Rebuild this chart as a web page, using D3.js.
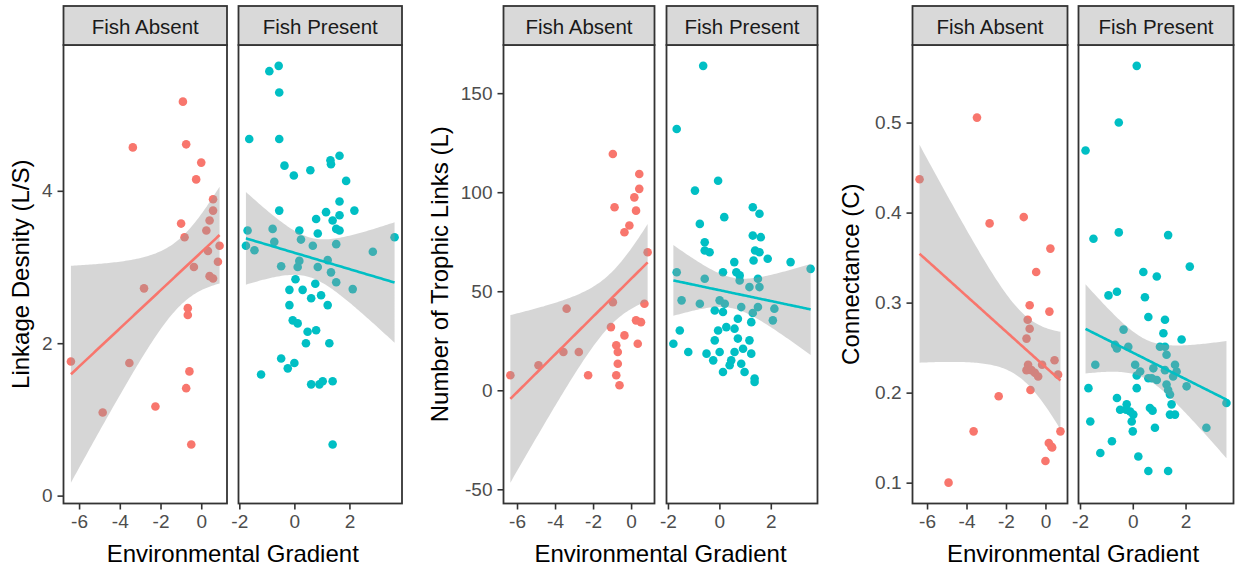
<!DOCTYPE html>
<html>
<head>
<meta charset="utf-8">
<script src="https://cdn.jsdelivr.net/npm/d3@7"></script>
<style>
html,body{margin:0;padding:0;background:#fff;}
svg{display:block;font-family:"Liberation Sans",Arial,sans-serif;}
</style>
</head>
<body>
<svg id="chart" width="1235" height="567"></svg>
<script>
// ---------- DATA ----------
const facetLabels = ["Fish Absent", "Fish Present"];
const xTitle = "Environmental Gradient";
const yTitles = ["Linkage Desnity (L/S)", "Number of Trophic Links (L)", "Connectance (C)"];
const xTicksAbsent = [-6, -4, -2, 0];
const xTicksPresent = [-2, 0, 2];
const yTicksLD = [0, 2, 4];
const yTicksTL = [-50, 0, 50, 100, 150];
const yTicksC = [0.1, 0.2, 0.3, 0.4, 0.5];

// Panel 1: Linkage density
const ldAbsentX = [-0.90,-3.36,-0.74,0.00,-0.25,0.58,0.58,0.41,-0.99,0.25,-0.82,0.90,0.33,0.82,-0.36,0.41,0.58,-2.81,-0.66,-0.66,-6.40,-3.53,-0.58,-0.74,-2.25,-4.84,-0.49];
const ldAbsentY = [5.17,4.57,4.61,4.37,4.15,3.89,3.74,3.61,3.57,3.48,3.39,3.28,3.21,3.07,3.00,2.88,2.85,2.72,2.46,2.37,1.76,1.74,1.63,1.41,1.17,1.09,0.67];
const ldPresentX = [-0.91,-0.57,-0.55,-1.64,-0.55,-0.36,-0.02,0.58,1.31,1.33,1.64,1.88,1.64,2.18,-0.55,1.15,0.79,1.64,1.39,1.52,1.64,0.18,0.85,-1.70,-0.79,3.64,-1.76,-1.45,-0.73,0.24,0.67,1.52,2.85,1.21,0.18,-0.48,0.12,0.85,1.33,0.04,0.76,1.52,-0.18,0.30,2.12,0.61,0.97,-0.18,1.21,-0.06,0.12,0.48,0.79,0.42,1.27,-0.48,0.00,-0.24,-1.21,0.61,0.91,1.03,1.39,1.39];
const ldPresentY = [5.57,5.64,5.29,4.68,4.68,4.33,4.20,4.27,4.40,4.35,4.46,4.13,3.86,3.74,3.74,3.72,3.63,3.68,3.61,3.50,3.48,3.48,3.44,3.48,3.50,3.39,3.28,3.22,3.33,3.36,3.28,3.30,3.20,3.09,3.08,3.01,3.00,3.00,2.93,2.84,2.78,2.80,2.70,2.70,2.71,2.59,2.63,2.50,2.50,2.30,2.26,2.15,2.17,2.00,2.00,1.80,1.74,1.67,1.59,1.46,1.46,1.50,1.50,0.67];

// Panel 2: Number of trophic links
const tlAbsentX = [-0.96,0.43,0.43,0.17,-0.87,0.26,-0.09,-0.35,0.87,-6.35,-4.87,-3.56,-3.39,-2.75,-2.26,-0.96,-1.06,-0.78,-0.70,-0.70,-0.78,-0.61,-0.35,0.35,0.26,0.52,0.70];
const tlAbsentY = [119.3,109.2,101.7,97.4,92.4,90.7,83.2,79.8,69.7,7.6,12.6,19.3,41.2,19.3,7.6,44.5,31.9,22.7,19.3,13.4,7.6,2.5,27.7,23.5,35.3,34.4,43.7];
const tlPresentX = [-0.63,-1.66,-0.05,-0.95,1.30,1.56,0.19,-0.76,1.30,1.61,-0.57,-0.57,-0.38,1.39,1.56,1.33,1.88,0.58,2.77,3.55,-1.66,0.14,0.66,0.79,-0.57,1.50,0.79,1.17,1.56,-1.47,-0.76,0.01,0.21,0.85,1.50,2.14,-0.18,0.14,1.30,0.72,1.24,2.08,-1.54,-0.05,0.27,0.59,0.72,-0.18,1.17,-1.79,-1.21,-0.50,0.01,0.59,0.92,1.24,-0.24,0.46,0.40,0.85,0.14,0.98,1.37,1.37];
const tlPresentY = [163.8,131.9,105.8,100.8,92.4,89.1,87.4,84.0,78.1,77.3,74.7,70.6,69.7,70.6,69.7,65.5,66.4,64.7,64.7,61.3,59.6,59.6,59.6,58.0,56.3,56.3,55.4,52.1,52.1,45.4,43.7,45.4,43.7,42.0,42.0,41.2,40.3,39.5,39.0,36.1,34.4,35.3,30.2,30.2,31.9,31.1,26.1,25.2,25.2,23.5,19.3,18.5,19.3,19.3,21.0,18.5,15.1,15.1,12.6,13.4,9.2,9.2,5.9,4.2];

// Panel 3: Connectance
const cAbsentX = [-3.47,-6.38,-2.83,-1.10,0.25,-0.47,-0.80,0.20,-0.90,-0.80,-0.96,0.46,-0.88,-0.17,-0.96,-0.71,-0.54,-0.37,0.64,-0.76,-2.37,-3.64,0.76,0.17,0.30,0.34,0.00,-4.91];
const cAbsentY = [0.5055,0.437,0.388,0.395,0.360,0.334,0.297,0.290,0.281,0.271,0.260,0.236,0.231,0.231,0.225,0.225,0.222,0.218,0.220,0.203,0.196,0.157,0.157,0.144,0.140,0.139,0.124,0.100];
const cPresentX = [0.15,-0.53,-1.79,-1.49,-0.53,1.34,0.40,0.91,2.16,-0.60,-0.92,0.46,0.59,1.22,1.16,-0.35,1.85,-0.67,-0.60,-0.17,1.03,1.22,1.28,-1.42,0.09,0.78,1.60,0.28,1.22,1.66,0.15,0.59,0.72,0.91,1.53,1.28,2.04,-1.68,0.15,1.34,1.41,-0.60,1.47,-0.23,-0.48,-0.25,-0.10,0.65,0.75,0.02,1.41,1.60,-0.04,-1.61,0.84,2.79,0.00,-0.79,-1.23,0.21,0.59,1.34,3.55];
const cPresentY = [0.563,0.500,0.469,0.371,0.378,0.375,0.334,0.329,0.340,0.312,0.308,0.306,0.284,0.281,0.266,0.270,0.259,0.253,0.249,0.251,0.251,0.251,0.242,0.231,0.231,0.227,0.231,0.2235,0.225,0.2235,0.219,0.216,0.216,0.214,0.218,0.209,0.207,0.205,0.205,0.203,0.198,0.194,0.187,0.187,0.181,0.181,0.179,0.183,0.180,0.1756,0.1756,0.1756,0.168,0.168,0.161,0.161,0.157,0.146,0.133,0.129,0.113,0.113,0.1885];

// ---------- STYLE / LAYOUT ----------
const colAbsent = "#F8766D", colPresent = "#00BFC4";
const panelTop = 45, panelBottom = 503.5, stripTop = 6;
const panels = [
  {title: yTitles[0], abs: [ldAbsentX, ldAbsentY], pre: [ldPresentX, ldPresentY], yTicks: yTicksLD, fmt: d => String(d),
   L: [63.5, 227], R: [238.5, 402], yTitleX: 29},
  {title: yTitles[1], abs: [tlAbsentX, tlAbsentY], pre: [tlPresentX, tlPresentY], yTicks: yTicksTL, fmt: d => String(d),
   L: [503.5, 654.5], R: [666.5, 817.5], yTitleX: 448},
  {title: yTitles[2], abs: [cAbsentX, cAbsentY], pre: [cPresentX, cPresentY], yTicks: yTicksC, fmt: d3.format(".1f"),
   L: [912.5, 1067.5], R: [1078.5, 1233.5], yTitleX: 859}
];

// t quantile (0.975) via Cornish-Fisher expansion
function tq975(df) {
  const z = 1.959964;
  const z3 = z*z*z, z5 = z3*z*z, z7 = z5*z*z;
  return z + (z3 + z)/(4*df) + (5*z5 + 16*z3 + 3*z)/(96*df*df) + (3*z7 + 19*z5 + 17*z3 - 15*z)/(384*df*df*df);
}
// linear model with 95% confidence band (like geom_smooth(method = "lm"))
function lmBand(xs, ys) {
  const n = xs.length, mx = d3.mean(xs), my = d3.mean(ys);
  let sxx = 0, sxy = 0;
  for (let i = 0; i < n; i++) { sxx += (xs[i]-mx)**2; sxy += (xs[i]-mx)*(ys[i]-my); }
  const b = sxy/sxx, a = my - b*mx;
  let sse = 0;
  for (let i = 0; i < n; i++) sse += (ys[i] - a - b*xs[i])**2;
  const s = Math.sqrt(sse/(n-2)), t = tq975(n-2);
  const [x0, x1] = d3.extent(xs);
  return d3.range(80).map(i => {
    const x = x0 + (x1-x0)*i/79, yh = a + b*x;
    const se = s*Math.sqrt(1/n + (x-mx)**2/sxx);
    return {x, y: yh, lo: yh - t*se, hi: yh + t*se};
  });
}
function expand(ext) { const d = (ext[1]-ext[0])*0.05; return [ext[0]-d, ext[1]+d]; }

const svg = d3.select("#chart");
const font = '"Liberation Sans",Arial,sans-serif';

panels.forEach(p => {
  const bandA = lmBand(p.abs[0], p.abs[1]);
  const bandP = lmBand(p.pre[0], p.pre[1]);
  const allY = [].concat(p.abs[1], p.pre[1], bandA.map(d=>d.lo), bandA.map(d=>d.hi), bandP.map(d=>d.lo), bandP.map(d=>d.hi));
  const y = d3.scaleLinear().domain(expand(d3.extent(allY))).range([panelBottom, panelTop]);

  const facets = [
    {label: facetLabels[0], xs: p.abs[0], ys: p.abs[1], band: bandA, col: colAbsent, range: p.L, ticks: xTicksAbsent, first: true},
    {label: facetLabels[1], xs: p.pre[0], ys: p.pre[1], band: bandP, col: colPresent, range: p.R, ticks: xTicksPresent, first: false}
  ];

  facets.forEach(f => {
    const x = d3.scaleLinear().domain(expand(d3.extent(f.xs))).range(f.range);
    const g = svg.append("g");
    const pts = f.xs.map((v, i) => [v, f.ys[i]]);
    // points
    g.selectAll("circle").data(pts).join("circle")
      .attr("cx", d => x(d[0])).attr("cy", d => y(d[1])).attr("r", 4.3)
      .attr("fill", f.col);
    // ribbon
    g.append("path").datum(f.band)
      .attr("d", d3.area().x(d => x(d.x)).y0(d => y(d.lo)).y1(d => y(d.hi)))
      .attr("fill", "#999999").attr("fill-opacity", 0.4);
    // fitted line
    g.append("path").datum(f.band)
      .attr("d", d3.line().x(d => x(d.x)).y(d => y(d.y)))
      .attr("fill", "none").attr("stroke", f.col).attr("stroke-width", 2.6);

    // x axis
    const xa = g.append("g").attr("transform", `translate(0,${panelBottom})`)
      .call(d3.axisBottom(x).tickValues(f.ticks).tickFormat(d => String(d)).tickSize(6).tickPadding(5));
    xa.select(".domain").remove();
    xa.selectAll("line").attr("stroke", "#333").attr("stroke-width", 1.6);
    xa.selectAll("text").attr("fill", "#4d4d4d").style("font-size", "19px").style("font-family", font);

    // y axis on first facet
    if (f.first) {
      const ya = g.append("g").attr("transform", `translate(${f.range[0]},0)`)
        .call(d3.axisLeft(y).tickValues(p.yTicks).tickFormat(p.fmt).tickSize(6).tickPadding(5));
      ya.select(".domain").remove();
      ya.selectAll("line").attr("stroke", "#333").attr("stroke-width", 1.6);
      ya.selectAll("text").attr("fill", "#4d4d4d").style("font-size", "19px").style("font-family", font);
    }

    // panel border
    g.append("rect").attr("x", f.range[0]).attr("y", panelTop)
      .attr("width", f.range[1]-f.range[0]).attr("height", panelBottom-panelTop)
      .attr("fill", "none").attr("stroke", "#333").attr("stroke-width", 1.8);
    // strip
    g.append("rect").attr("x", f.range[0]).attr("y", stripTop)
      .attr("width", f.range[1]-f.range[0]).attr("height", panelTop-stripTop)
      .attr("fill", "#d9d9d9").attr("stroke", "#333").attr("stroke-width", 1.8);
    g.append("text").attr("x", (f.range[0]+f.range[1])/2).attr("y", 34)
      .attr("text-anchor", "middle").attr("fill", "#1a1a1a")
      .style("font-size", "20.5px").style("font-family", font).text(f.label);
  });

  // x title
  svg.append("text").attr("x", (p.L[0]+p.R[1])/2).attr("y", 561.5)
    .attr("text-anchor", "middle").attr("fill", "#000")
    .style("font-size", "24px").style("font-family", font).text(xTitle);
  // y title
  const cy = (panelTop + panelBottom)/2;
  svg.append("text").attr("transform", `translate(${p.yTitleX},${cy}) rotate(-90)`)
    .attr("text-anchor", "middle").attr("fill", "#000")
    .style("font-size", "24px").style("font-family", font).text(p.title);
});
</script>
</body>
</html>
